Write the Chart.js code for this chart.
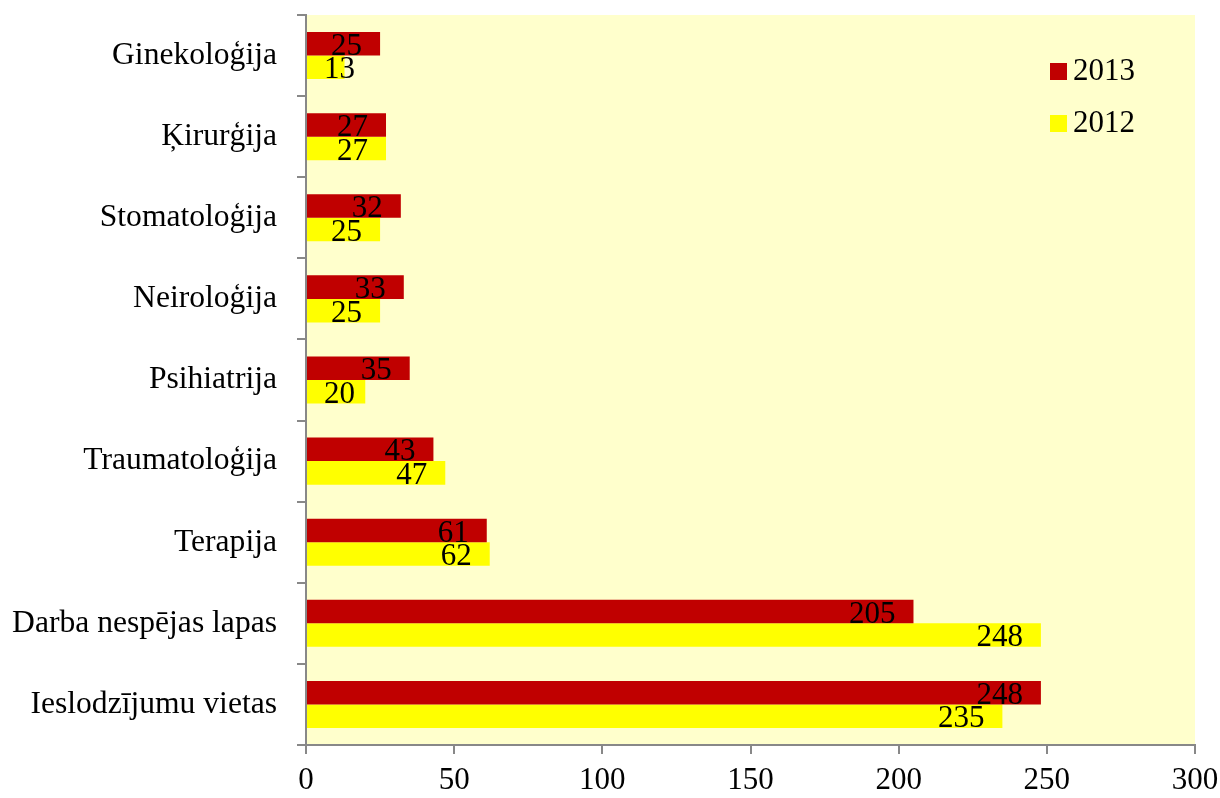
<!DOCTYPE html>
<html lang="lv">
<head>
    <meta charset="UTF-8">
    <title>Ziņojumi pa nozarēm 2012-2013</title>
    <script src="https://cdn.jsdelivr.net/npm/chart.js"></script>
    <style>
        body { margin: 0; background: #fff; }
        canvas { display: block; }
    </style>
</head>
<body>
    <canvas id="barChart" width="1220" height="798"></canvas>

    <script>
        const categories = ['Ginekoloģija', 'Ķirurģija', 'Stomatoloģija', 'Neiroloģija', 'Psihiatrija',
            'Traumatoloģija', 'Terapija', 'Darba nespējas lapas', 'Ieslodzījumu vietas'];
        const values2013 = [25, 27, 32, 33, 35, 43, 61, 205, 248];
        const values2012 = [13, 27, 25, 25, 20, 47, 62, 248, 235];
        const xTicks = [0, 50, 100, 150, 200, 250, 300];

        const FONT = '"Liberation Serif", "Times New Roman", serif';
        const FONT_SIZE = 31;

        // yellow plot area
        const plotBackground = {
            id: 'plotBackground',
            beforeDraw(chart) {
                const { ctx, chartArea: a } = chart;
                ctx.save();
                ctx.fillStyle = '#FFFFCC';
                ctx.fillRect(a.left, a.top, a.right - a.left, a.bottom - a.top);
                ctx.restore();
            }
        };

        // value labels at the inner end of each bar
        const barLabels = {
            id: 'barLabels',
            afterDatasetsDraw(chart) {
                const ctx = chart.ctx;
                ctx.save();
                ctx.font = FONT_SIZE + 'px ' + FONT;
                ctx.fillStyle = '#000';
                ctx.textAlign = 'left';
                ctx.textBaseline = 'middle';
                chart.data.datasets.forEach((ds, i) => {
                    chart.getDatasetMeta(i).data.forEach((bar, j) => {
                        const txt = String(ds.data[j]);
                        const w = ctx.measureText(txt).width;
                        const x = Math.max(bar.x - 18 - w, bar.base + 17);
                        ctx.fillText(txt, x, bar.y + 3);
                    });
                });
                ctx.restore();
            }
        };

        // legend sits inside the plot, top right
        const insideLegend = {
            id: 'insideLegend',
            afterDraw(chart) {
                const ctx = chart.ctx;
                ctx.save();
                ctx.font = FONT_SIZE + 'px ' + FONT;
                ctx.textBaseline = 'middle';
                chart.data.datasets.forEach((ds, i) => {
                    const y = 71 + i * 52;
                    ctx.fillStyle = ds.backgroundColor;
                    ctx.fillRect(1050, y - 8, 17, 17);
                    ctx.fillStyle = '#000';
                    ctx.fillText(ds.label, 1073, y + 1);
                });
                ctx.restore();
            }
        };

        new Chart(document.getElementById('barChart'), {
            type: 'bar',
            data: {
                labels: categories,
                datasets: [
                    { label: '2013', data: values2013, backgroundColor: '#C00000' },
                    { label: '2012', data: values2012, backgroundColor: '#FFFF00' }
                ]
            },
            options: {
                indexAxis: 'y',
                responsive: false,
                animation: false,
                devicePixelRatio: 1,
                layout: { padding: 0 },
                datasets: { bar: { categoryPercentage: 0.58, barPercentage: 1.0 } },
                plugins: {
                    legend: { display: false },
                    tooltip: { enabled: false }
                },
                scales: {
                    x: {
                        min: 0,
                        max: 300,
                        afterBuildTicks(scale) { scale.ticks = xTicks.map(v => ({ value: v })); },
                        afterFit(scale) {
                            scale.height = 53;
                            scale.paddingLeft = 0;
                            scale.paddingRight = 25;
                        },
                        border: { color: '#888', width: 2 },
                        grid: { drawOnChartArea: false, drawTicks: true, tickLength: 9, color: '#888', lineWidth: 2 },
                        ticks: { color: '#000', padding: 8, font: { family: FONT, size: FONT_SIZE } }
                    },
                    y: {
                        offset: true,
                        afterFit(scale) {
                            scale.width = 306;
                            scale.paddingTop = 15;
                            scale.paddingBottom = 0;
                        },
                        border: { color: '#888', width: 2 },
                        grid: { offset: true, drawOnChartArea: false, drawTicks: true, tickLength: 9, color: '#888', lineWidth: 2 },
                        ticks: { color: '#000', padding: 20, font: { family: FONT, size: 31.6 } }
                    }
                }
            },
            plugins: [plotBackground, barLabels, insideLegend]
        });
    </script>
</body>
</html>
